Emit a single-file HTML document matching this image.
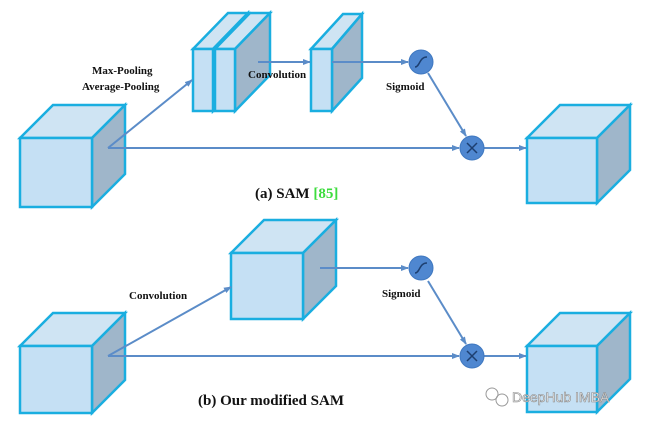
<!DOCTYPE html><html><head><style>body{margin:0;background:#fff}svg{display:block}</style></head><body>
<svg width="646" height="426" viewBox="0 0 646 426" xmlns="http://www.w3.org/2000/svg">
<defs><marker id="a" markerWidth="8" markerHeight="8" refX="7" refY="4" orient="auto" markerUnits="userSpaceOnUse"><path d="M0,1 L8,4 L0,7z" fill="#5b8cc8"/></marker></defs>
<g stroke="#1aaee0" stroke-width="2.5" stroke-linejoin="miter">
<polygon points="20,138 53,105 125,105 92,138" fill="#cfe4f3"/><polygon points="92,138 125,105 125,174 92,207" fill="#9fb6ca"/><rect x="20" y="138" width="72" height="69" fill="#c5e0f4"/>
<polygon points="193,49 228,13 248,13 213,49" fill="#cfe4f3"/><polygon points="213,49 248,13 248,75 213,111" fill="#9fb6ca"/><rect x="193" y="49" width="20" height="62" fill="#c5e0f4"/>
<polygon points="215,49 250,13 270,13 235,49" fill="#cfe4f3"/><polygon points="235,49 270,13 270,75 235,111" fill="#9fb6ca"/><rect x="215" y="49" width="20" height="62" fill="#c5e0f4"/>
<polygon points="311,49 343,14 362,14 332,49" fill="#cfe4f3"/><polygon points="332,49 362,14 362,78 332,111" fill="#9fb6ca"/><rect x="311" y="49" width="21" height="62" fill="#c5e0f4"/>
<polygon points="527,138 560,105 630,105 597,138" fill="#cfe4f3"/><polygon points="597,138 630,105 630,170 597,203" fill="#9fb6ca"/><rect x="527" y="138" width="70" height="65" fill="#c5e0f4"/>
<polygon points="20,346 53,313 125,313 92,346" fill="#cfe4f3"/><polygon points="92,346 125,313 125,380 92,413" fill="#9fb6ca"/><rect x="20" y="346" width="72" height="67" fill="#c5e0f4"/>
<polygon points="231,253 264,220 336,220 303,253" fill="#cfe4f3"/><polygon points="303,253 336,220 336,286 303,319" fill="#9fb6ca"/><rect x="231" y="253" width="72" height="66" fill="#c5e0f4"/>
<polygon points="527,346 560,313 630,313 597,346" fill="#cfe4f3"/><polygon points="597,346 630,313 630,379 597,412" fill="#9fb6ca"/><rect x="527" y="346" width="70" height="66" fill="#c5e0f4"/>
</g>
<g stroke="#5b8cc8" stroke-width="2" fill="none" marker-end="url(#a)">
<line x1="108" y1="148" x2="459" y2="148"/><line x1="108" y1="148" x2="192" y2="80"/><line x1="258" y1="62" x2="310" y2="62"/>
<line x1="332" y1="62" x2="408" y2="62"/><line x1="428" y1="73" x2="466" y2="136"/><line x1="484" y1="148" x2="526" y2="148"/>
<line x1="108" y1="356" x2="459" y2="356"/><line x1="108" y1="356" x2="231" y2="287"/><line x1="320" y1="268" x2="408" y2="268"/>
<line x1="428" y1="281" x2="466" y2="344"/><line x1="484" y1="356" x2="526" y2="356"/>
</g>
<g fill="#4f87d0" stroke="#3f78c0" stroke-width="1">
<circle cx="421" cy="62" r="12"/><circle cx="472" cy="148" r="12"/><circle cx="421" cy="268" r="12"/><circle cx="472" cy="356" r="12"/></g>
<g stroke="#1d3f70" stroke-width="1.5" fill="none">
<path d="M415,67 C420,67 419,57 427,57"/><path d="M415,273 C420,273 419,263 427,263"/>
<path d="M467,143 L477,153 M477,143 L467,153 M467,351 L477,361 M477,351 L467,361"/></g>
<g font-family="Liberation Serif, serif" font-weight="bold" fill="#111" font-size="11">
<text x="92" y="74">Max-Pooling</text><text x="82" y="90">Average-Pooling</text>
<text x="248" y="78">Convolution</text><text x="386" y="90">Sigmoid</text>
<text x="129" y="299">Convolution</text><text x="382" y="297">Sigmoid</text>
<text x="255" y="198" font-size="15">(a) SAM <tspan fill="#3ddc3d">[85]</tspan></text>
<text x="198" y="405" font-size="15">(b) Our modified SAM</text>
</g>
<text x="512" y="402" font-family="Liberation Sans, sans-serif" font-size="14" fill="#fff" stroke="#888" stroke-width="0.6">DeepHub IMBA</text>
<g fill="none" stroke="#999" stroke-width="1"><circle cx="492" cy="394" r="6"/><circle cx="502" cy="400" r="6"/></g>
</svg></body></html>
